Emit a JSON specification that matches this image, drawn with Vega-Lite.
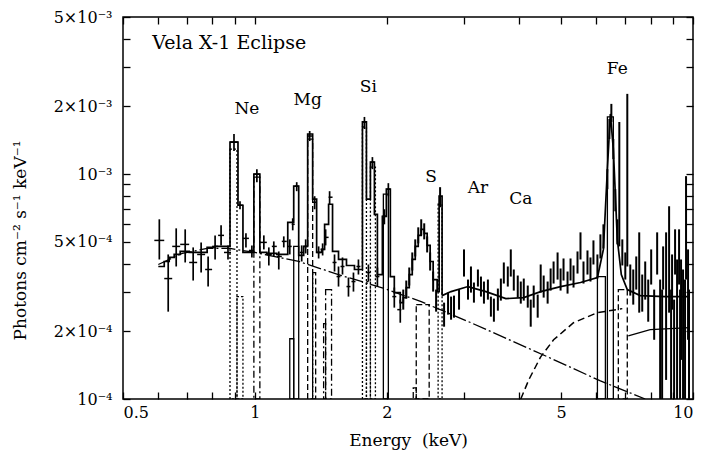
{
  "$schema": "https://vega.github.io/schema/vega-lite/v6.json",
  "width": 570,
  "height": 382,
  "autosize": {"type": "none"},
  "padding": {"left": 123, "top": 17, "right": 12, "bottom": 58},
  "background": "white",
  "config": {
    "view": {"stroke": "black", "strokeWidth": 1.5},
    "font": "DejaVu Serif",
    "axis": {"tickColor": "black", "labelColor": "black", "titleColor": "black", "grid": false, "domain": false, "labelFont": "DejaVu Serif", "titleFont": "DejaVu Serif", "labelFontSize": 16, "titleFontSize": 17, "titleFontWeight": "normal", "tickWidth": 1.3, "labelOverlap": false}
  },
  "resolve": {"axis": {"x": "independent", "y": "independent"}},
  "datasets": {
    "comp": [
      {"E1": 0.8774, "E2": 0.9102, "F": 1.2928e-3, "s": "dot"},
      {"E1": 0.9102, "E2": 0.9392, "F": 2.854e-4, "s": "dot"},
      {"E1": 0.9947, "E2": 1.0265, "F": 9.701e-4, "s": "dashdot"},
      {"E1": 1.2012, "E2": 1.2264, "F": 1.853e-4, "s": "solid"},
      {"E1": 1.2264, "E2": 1.2590, "F": 4.772e-4, "s": "solid"},
      {"E1": 1.3197, "E2": 1.3547, "F": 1.433e-3, "s": "dash"},
      {"E1": 1.3547, "E2": 1.3763, "F": 3.651e-4, "s": "dash"},
      {"E1": 1.4351, "E2": 1.4503, "F": 2.162e-4, "s": "dashdot"},
      {"E1": 1.4503, "E2": 1.4962, "F": 3.067e-4, "s": "dashdot"},
      {"E1": 1.7599, "E2": 1.7972, "F": 1.6212e-3, "s": "dot"},
      {"E1": 1.7972, "E2": 1.8352, "F": 3.330e-4, "s": "dot"},
      {"E1": 1.8352, "E2": 1.8841, "F": 1.0746e-3, "s": "dot"},
      {"E1": 1.9645, "E2": 2.0166, "F": 8.144e-4, "s": "solid"},
      {"E1": 2.2987, "E2": 2.3351, "F": 1.120e-4, "s": "dash"},
      {"E1": 2.3351, "E2": 2.4993, "F": 2.629e-4, "s": "dash"},
      {"E1": 2.6196, "E2": 2.6747, "F": 7.348e-4, "s": "dot"},
      {"E1": 6.0512, "E2": 6.3103, "F": 3.504e-4, "s": "solid"},
      {"E1": 6.3767, "E2": 6.5791, "F": 1.7967e-3, "s": "solid"},
      {"E1": 6.7540, "E2": 7.0795, "F": 3.067e-4, "s": "dash"}
    ],
    "cont": [
      {"E": 0.6020, "F": 3.965e-4}, {"E": 0.6825, "F": 4.439e-4}, {"E": 0.7780, "F": 4.674e-4},
      {"E": 0.8774, "F": 4.674e-4}, {"E": 1.0, "F": 4.485e-4}, {"E": 1.2590, "F": 4.089e-4},
      {"E": 1.5766, "F": 3.541e-4}, {"E": 1.9441, "F": 3.131e-4}, {"E": 2.3967, "F": 2.711e-4},
      {"E": 3.1131, "F": 2.184e-4}, {"E": 4.6583, "F": 1.540e-4}, {"E": 6.1474, "F": 1.203e-4},
      {"E": 7.7794, "F": 1.0e-4}
    ],
    "hard": [
      {"E": 4.0447, "F": 1.0e-4}, {"E": 4.2178, "F": 1.216e-4}, {"E": 4.4908, "F": 1.540e-4},
      {"E": 4.8063, "F": 1.834e-4}, {"E": 5.3365, "F": 2.184e-4}, {"E": 6.0512, "F": 2.421e-4},
      {"E": 6.8966, "F": 2.523e-4}
    ],
    "edge": [
      {"E": 7.1171, "F": 1.911e-4}, {"E": 7.9851, "F": 2.033e-4}, {"E": 9.8442, "F": 2.075e-4}
    ],
    "model": [
      {"E": 0.6020, "F": 3.885e-4}, {"E": 0.6210, "F": 4.089e-4}, {"E": 0.6374, "F": 4.261e-4},
      {"E": 0.6544, "F": 4.394e-4}, {"E": 0.6753, "F": 4.531e-4}, {"E": 0.7080, "F": 4.485e-4},
      {"E": 0.7383, "F": 4.485e-4}, {"E": 0.7780, "F": 4.723e-4}, {"E": 0.8113, "F": 4.772e-4},
      {"E": 0.8502, "F": 4.772e-4}, {"E": 0.8774, "F": 1.3891e-3}, {"E": 0.9150, "F": 7.273e-4},
      {"E": 0.9392, "F": 4.485e-4}, {"E": 0.9947, "F": 1.0e-3}, {"E": 1.0265, "F": 4.485e-4},
      {"E": 1.0648, "F": 4.439e-4}, {"E": 1.1220, "F": 4.394e-4}, {"E": 1.1886, "F": 6.106e-4},
      {"E": 1.2264, "F": 8.842e-4}, {"E": 1.2590, "F": 4.349e-4}, {"E": 1.2923, "F": 4.772e-4},
      {"E": 1.3197, "F": 1.5085e-3}, {"E": 1.3547, "F": 7.736e-4}, {"E": 1.3834, "F": 4.485e-4},
      {"E": 1.4202, "F": 4.627e-4}, {"E": 1.4426, "F": 5.982e-4}, {"E": 1.4732, "F": 7.348e-4},
      {"E": 1.5040, "F": 4.531e-4}, {"E": 1.5520, "F": 4.174e-4}, {"E": 1.6184, "F": 3.925e-4},
      {"E": 1.6877, "F": 3.767e-4}, {"E": 1.7599, "F": 1.7065e-3}, {"E": 1.7972, "F": 7.736e-4},
      {"E": 1.8352, "F": 1.1311e-3}, {"E": 1.8742, "F": 6.630e-4}, {"E": 1.9039, "F": 3.577e-4},
      {"E": 1.9542, "F": 6.495e-4}, {"E": 1.9956, "F": 8.574e-4}, {"E": 2.0378, "F": 3.504e-4},
      {"E": 2.0808, "F": 2.973e-4}, {"E": 2.1471, "F": 2.683e-4}, {"E": 2.1813, "F": 2.825e-4},
      {"E": 2.2158, "F": 3.131e-4}, {"E": 2.2510, "F": 3.577e-4}, {"E": 2.2866, "F": 4.174e-4},
      {"E": 2.3230, "F": 4.772e-4}, {"E": 2.3596, "F": 5.342e-4}, {"E": 2.3967, "F": 5.683e-4},
      {"E": 2.4346, "F": 5.454e-4}, {"E": 2.4732, "F": 4.821e-4}, {"E": 2.5122, "F": 4.089e-4},
      {"E": 2.5519, "F": 3.398e-4}, {"E": 2.6060, "F": 3.004e-4}, {"E": 2.6335, "F": 7.979e-4},
      {"E": 2.6747, "F": 2.883e-4}
    ],
    "tot": [
      {"E": 2.6747, "F": 2.883e-4}, {"E": 2.8038, "F": 3.004e-4}, {"E": 3.0648, "F": 3.163e-4},
      {"E": 3.3677, "F": 3.004e-4}, {"E": 3.7391, "F": 2.796e-4}, {"E": 4.1086, "F": 2.825e-4},
      {"E": 4.4908, "F": 3.004e-4}, {"E": 4.9856, "F": 3.163e-4}, {"E": 5.5361, "F": 3.296e-4},
      {"E": 6.0512, "F": 3.469e-4}, {"E": 6.2445, "F": 4.627e-4}, {"E": 6.3767, "F": 1.0527e-3},
      {"E": 6.4768, "F": 1.8529e-3}, {"E": 6.5791, "F": 1.2928e-3}, {"E": 6.7184, "F": 5.128e-4},
      {"E": 6.8604, "F": 3.577e-4}, {"E": 7.0795, "F": 3.067e-4}, {"E": 7.5786, "F": 2.883e-4},
      {"E": 8.6370, "F": 2.854e-4}, {"E": 9.8442, "F": 2.854e-4}
    ],
    "lo": [
      {"E": 0.6052, "F": 5.074e-4, "Elo": 0.5895, "Ehi": 0.6210, "Flo": 4.174e-4, "Fhi": 6.298e-4},
      {"E": 0.6341, "F": 3.433e-4, "Elo": 0.6210, "Ehi": 0.6476, "Flo": 2.446e-4, "Fhi": 4.394e-4},
      {"E": 0.6613, "F": 4.772e-4, "Elo": 0.6476, "Ehi": 0.6753, "Flo": 3.885e-4, "Fhi": 5.741e-4},
      {"E": 0.6933, "F": 4.871e-4, "Elo": 0.6753, "Ehi": 0.7080, "Flo": 4.048e-4, "Fhi": 5.683e-4},
      {"E": 0.7230, "F": 4.048e-4, "Elo": 0.7080, "Ehi": 0.7383, "Flo": 3.364e-4, "Fhi": 4.723e-4},
      {"E": 0.7539, "F": 4.394e-4, "Elo": 0.7383, "Ehi": 0.7699, "Flo": 3.651e-4, "Fhi": 4.972e-4},
      {"E": 0.7821, "F": 3.767e-4, "Elo": 0.7699, "Ehi": 0.7987, "Flo": 3.163e-4, "Fhi": 4.305e-4},
      {"E": 0.8113, "F": 4.772e-4, "Elo": 0.7987, "Ehi": 0.8242, "Flo": 4.174e-4, "Fhi": 5.342e-4},
      {"E": 0.8372, "F": 5.342e-4, "Elo": 0.8242, "Ehi": 0.8502, "Flo": 4.821e-4, "Fhi": 5.921e-4},
      {"E": 0.8682, "F": 4.485e-4, "Elo": 0.8502, "Ehi": 0.8820, "Flo": 4.174e-4, "Fhi": 4.821e-4},
      {"E": 0.8960, "F": 1.389e-3, "Elo": 0.8774, "Ehi": 0.9150, "Flo": 1.2665e-3, "Fhi": 1.5085e-3},
      {"E": 0.9247, "F": 7.273e-4, "Elo": 0.9150, "Ehi": 0.9392, "Flo": 6.980e-4, "Fhi": 7.578e-4},
      {"E": 0.9541, "F": 5.181e-4, "Elo": 0.9392, "Ehi": 0.9691, "Flo": 4.723e-4, "Fhi": 5.454e-4},
      {"E": 0.9844, "F": 4.578e-4, "Elo": 0.9691, "Ehi": 0.9947, "Flo": 4.261e-4, "Fhi": 4.821e-4},
      {"E": 1.0105, "F": 1.0e-3, "Elo": 0.9947, "Ehi": 1.0265, "Flo": 9.212e-4, "Fhi": 1.0527e-3},
      {"E": 1.0482, "F": 4.972e-4, "Elo": 1.0265, "Ehi": 1.0648, "Flo": 4.627e-4, "Fhi": 5.342e-4},
      {"E": 1.0760, "F": 4.394e-4, "Elo": 1.0648, "Ehi": 1.0930, "Flo": 3.925e-4, "Fhi": 4.723e-4},
      {"E": 1.1045, "F": 4.772e-4, "Elo": 1.0930, "Ehi": 1.1220, "Flo": 4.305e-4, "Fhi": 5.023e-4},
      {"E": 1.1338, "F": 4.305e-4, "Elo": 1.1220, "Ehi": 1.1519, "Flo": 3.767e-4, "Fhi": 4.531e-4},
      {"E": 1.1640, "F": 5.023e-4, "Elo": 1.1519, "Ehi": 1.1824, "Flo": 4.723e-4, "Fhi": 5.288e-4},
      {"E": 1.2012, "F": 4.772e-4, "Elo": 1.1886, "Ehi": 1.2137, "Flo": 4.394e-4, "Fhi": 5.128e-4},
      {"E": 1.2200, "F": 5.982e-4, "Elo": 1.2137, "Ehi": 1.2329, "Flo": 5.624e-4, "Fhi": 6.363e-4},
      {"E": 1.2459, "F": 8.842e-4, "Elo": 1.2329, "Ehi": 1.2590, "Flo": 8.399e-4, "Fhi": 9.212e-4},
      {"E": 1.2789, "F": 4.485e-4, "Elo": 1.2657, "Ehi": 1.2923, "Flo": 4.089e-4, "Fhi": 4.821e-4},
      {"E": 1.3060, "F": 4.772e-4, "Elo": 1.2923, "Ehi": 1.3197, "Flo": 4.439e-4, "Fhi": 5.128e-4},
      {"E": 1.3337, "F": 1.4779e-3, "Elo": 1.3197, "Ehi": 1.3547, "Flo": 1.4035e-3, "Fhi": 1.5557e-3},
      {"E": 1.3690, "F": 7.500e-4, "Elo": 1.3547, "Ehi": 1.3834, "Flo": 6.980e-4, "Fhi": 7.979e-4},
      {"E": 1.3980, "F": 4.485e-4, "Elo": 1.3834, "Ehi": 1.4127, "Flo": 4.217e-4, "Fhi": 4.772e-4},
      {"E": 1.4276, "F": 4.627e-4, "Elo": 1.4127, "Ehi": 1.4426, "Flo": 4.349e-4, "Fhi": 4.921e-4},
      {"E": 1.4503, "F": 5.234e-4, "Elo": 1.4426, "Ehi": 1.4732, "Flo": 4.821e-4, "Fhi": 5.683e-4},
      {"E": 1.4810, "F": 7.897e-4, "Elo": 1.4732, "Ehi": 1.5040, "Flo": 7.348e-4, "Fhi": 8.399e-4},
      {"E": 1.5198, "F": 4.048e-4, "Elo": 1.5040, "Ehi": 1.5359, "Flo": 3.689e-4, "Fhi": 4.394e-4},
      {"E": 1.5520, "F": 3.504e-4, "Elo": 1.5359, "Ehi": 1.5683, "Flo": 3.163e-4, "Fhi": 3.885e-4},
      {"E": 1.5848, "F": 3.885e-4, "Elo": 1.5683, "Ehi": 1.6015, "Flo": 3.577e-4, "Fhi": 4.261e-4},
      {"E": 1.6354, "F": 3.163e-4, "Elo": 1.6184, "Ehi": 1.6526, "Flo": 2.854e-4, "Fhi": 3.469e-4},
      {"E": 1.6788, "F": 3.330e-4, "Elo": 1.6614, "Ehi": 1.6966, "Flo": 3.004e-4, "Fhi": 3.651e-4},
      {"E": 1.7234, "F": 3.885e-4, "Elo": 1.7054, "Ehi": 1.7415, "Flo": 3.577e-4, "Fhi": 4.174e-4},
      {"E": 1.7785, "F": 1.7065e-3, "Elo": 1.7599, "Ehi": 1.7972, "Flo": 1.5882e-3, "Fhi": 1.7967e-3},
      {"E": 1.8161, "F": 3.651e-4, "Elo": 1.7972, "Ehi": 1.8352, "Flo": 3.330e-4, "Fhi": 3.965e-4},
      {"E": 1.8546, "F": 1.1311e-3, "Elo": 1.8352, "Ehi": 1.8742, "Flo": 1.0527e-3, "Fhi": 1.1909e-3},
      {"E": 1.9039, "F": 3.504e-4, "Elo": 1.8841, "Ehi": 1.9240, "Flo": 3.163e-4, "Fhi": 3.845e-4},
      {"E": 1.9748, "F": 6.495e-4, "Elo": 1.9542, "Ehi": 1.9956, "Flo": 5.982e-4, "Fhi": 6.980e-4},
      {"E": 2.0166, "F": 8.574e-4, "Elo": 1.9956, "Ehi": 2.0378, "Flo": 7.979e-4, "Fhi": 9.119e-4},
      {"E": 2.0808, "F": 2.854e-4, "Elo": 2.0590, "Ehi": 2.1027, "Flo": 2.549e-4, "Fhi": 3.131e-4},
      {"E": 2.1471, "F": 2.497e-4, "Elo": 2.1137, "Ehi": 2.1586, "Flo": 2.184e-4, "Fhi": 2.767e-4}
    ],
    "hi": [
      {"E": 2.181, "F": 2.767e-4, "Flo": 2.497e-4, "Fhi": 3.067e-4},
      {"E": 2.216, "F": 3.067e-4, "Flo": 2.796e-4, "Fhi": 3.364e-4},
      {"E": 2.251, "F": 3.504e-4, "Flo": 3.196e-4, "Fhi": 3.845e-4},
      {"E": 2.287, "F": 4.089e-4, "Flo": 3.727e-4, "Fhi": 4.485e-4},
      {"E": 2.323, "F": 4.723e-4, "Flo": 4.305e-4, "Fhi": 5.128e-4},
      {"E": 2.360, "F": 5.342e-4, "Flo": 4.921e-4, "Fhi": 5.801e-4},
      {"E": 2.397, "F": 5.801e-4, "Flo": 5.342e-4, "Fhi": 6.298e-4},
      {"E": 2.435, "F": 5.567e-4, "Flo": 5.128e-4, "Fhi": 6.044e-4},
      {"E": 2.473, "F": 4.871e-4, "Flo": 4.485e-4, "Fhi": 5.288e-4},
      {"E": 2.512, "F": 4.089e-4, "Flo": 3.727e-4, "Fhi": 4.485e-4},
      {"E": 2.552, "F": 3.330e-4, "Flo": 3.004e-4, "Fhi": 3.689e-4},
      {"E": 2.592, "F": 2.767e-4, "Flo": 2.446e-4, "Fhi": 3.067e-4},
      {"E": 2.647, "F": 7.979e-4, "Flo": 7.125e-4, "Fhi": 8.752e-4},
      {"E": 2.703, "F": 2.421e-4, "Flo": 2.097e-4, "Fhi": 2.683e-4},
      {"E": 2.760, "F": 2.683e-4, "Flo": 2.372e-4, "Fhi": 2.973e-4},
      {"E": 2.804, "F": 2.497e-4, "Flo": 2.253e-4, "Fhi": 2.854e-4},
      {"E": 2.848, "F": 2.575e-4, "Flo": 2.300e-4, "Fhi": 2.883e-4},
      {"E": 2.924, "F": 2.767e-4, "Flo": 2.497e-4, "Fhi": 3.067e-4},
      {"E": 3.001, "F": 4.089e-4, "Flo": 3.504e-4, "Fhi": 4.627e-4},
      {"E": 3.065, "F": 3.067e-4, "Flo": 2.767e-4, "Fhi": 3.398e-4},
      {"E": 3.113, "F": 3.398e-4, "Flo": 2.973e-4, "Fhi": 3.885e-4},
      {"E": 3.162, "F": 2.973e-4, "Flo": 2.683e-4, "Fhi": 3.296e-4},
      {"E": 3.229, "F": 3.504e-4, "Flo": 3.163e-4, "Fhi": 3.767e-4},
      {"E": 3.281, "F": 3.163e-4, "Flo": 2.854e-4, "Fhi": 3.504e-4},
      {"E": 3.333, "F": 2.973e-4, "Flo": 2.656e-4, "Fhi": 3.330e-4},
      {"E": 3.403, "F": 3.067e-4, "Flo": 2.767e-4, "Fhi": 3.398e-4},
      {"E": 3.457, "F": 2.575e-4, "Flo": 2.324e-4, "Fhi": 2.854e-4},
      {"E": 3.512, "F": 2.497e-4, "Flo": 2.207e-4, "Fhi": 2.796e-4},
      {"E": 3.586, "F": 2.767e-4, "Flo": 2.471e-4, "Fhi": 3.099e-4},
      {"E": 3.643, "F": 3.067e-4, "Flo": 2.739e-4, "Fhi": 3.433e-4},
      {"E": 3.700, "F": 3.651e-4, "Flo": 3.262e-4, "Fhi": 4.048e-4},
      {"E": 3.778, "F": 3.577e-4, "Flo": 3.163e-4, "Fhi": 3.885e-4},
      {"E": 3.838, "F": 4.048e-4, "Flo": 3.504e-4, "Fhi": 4.627e-4},
      {"E": 3.899, "F": 3.398e-4, "Flo": 3.035e-4, "Fhi": 3.767e-4},
      {"E": 3.981, "F": 3.163e-4, "Flo": 2.825e-4, "Fhi": 3.541e-4},
      {"E": 4.045, "F": 2.973e-4, "Flo": 2.656e-4, "Fhi": 3.330e-4},
      {"E": 4.109, "F": 3.067e-4, "Flo": 2.739e-4, "Fhi": 3.433e-4},
      {"E": 4.196, "F": 2.854e-4, "Flo": 2.549e-4, "Fhi": 3.196e-4},
      {"E": 4.262, "F": 2.497e-4, "Flo": 2.097e-4, "Fhi": 2.767e-4},
      {"E": 4.329, "F": 2.854e-4, "Flo": 2.549e-4, "Fhi": 3.196e-4},
      {"E": 4.421, "F": 2.575e-4, "Flo": 2.300e-4, "Fhi": 2.913e-4},
      {"E": 4.491, "F": 3.398e-4, "Flo": 2.973e-4, "Fhi": 3.965e-4},
      {"E": 4.562, "F": 3.163e-4, "Flo": 2.825e-4, "Fhi": 3.541e-4},
      {"E": 4.658, "F": 2.973e-4, "Flo": 2.656e-4, "Fhi": 3.330e-4},
      {"E": 4.732, "F": 3.398e-4, "Flo": 3.035e-4, "Fhi": 3.806e-4},
      {"E": 4.806, "F": 3.651e-4, "Flo": 3.262e-4, "Fhi": 4.089e-4},
      {"E": 4.908, "F": 3.885e-4, "Flo": 3.398e-4, "Fhi": 4.485e-4},
      {"E": 4.986, "F": 3.398e-4, "Flo": 3.035e-4, "Fhi": 3.806e-4},
      {"E": 5.064, "F": 3.767e-4, "Flo": 3.364e-4, "Fhi": 4.217e-4},
      {"E": 5.172, "F": 3.296e-4, "Flo": 2.943e-4, "Fhi": 3.689e-4},
      {"E": 5.254, "F": 3.767e-4, "Flo": 3.364e-4, "Fhi": 4.217e-4},
      {"E": 5.337, "F": 3.504e-4, "Flo": 3.131e-4, "Fhi": 3.925e-4},
      {"E": 5.450, "F": 4.048e-4, "Flo": 3.614e-4, "Fhi": 4.531e-4},
      {"E": 5.536, "F": 4.772e-4, "Flo": 4.174e-4, "Fhi": 5.510e-4},
      {"E": 5.624, "F": 3.651e-4, "Flo": 3.262e-4, "Fhi": 4.089e-4},
      {"E": 5.743, "F": 4.048e-4, "Flo": 3.577e-4, "Fhi": 4.578e-4},
      {"E": 5.834, "F": 3.767e-4, "Flo": 3.330e-4, "Fhi": 4.261e-4},
      {"E": 5.926, "F": 4.485e-4, "Flo": 3.965e-4, "Fhi": 5.075e-4},
      {"E": 6.051, "F": 3.885e-4, "Flo": 3.433e-4, "Fhi": 4.394e-4},
      {"E": 6.147, "F": 4.772e-4, "Flo": 4.217e-4, "Fhi": 5.398e-4},
      {"E": 6.245, "F": 5.288e-4, "Flo": 4.674e-4, "Fhi": 5.982e-4},
      {"E": 6.377, "F": 9.503e-4, "Flo": 8.574e-4, "Fhi": 1.0527e-3},
      {"E": 6.444, "F": 1.5882e-3, "Flo": 1.4330e-3, "Fhi": 1.7601e-3},
      {"E": 6.511, "F": 1.8912e-3, "Flo": 1.7065e-3, "Fhi": 2.0537e-3},
      {"E": 6.579, "F": 1.2928e-3, "Flo": 1.1666e-3, "Fhi": 1.4330e-3},
      {"E": 6.648, "F": 7.736e-4, "Flo": 6.837e-4, "Fhi": 8.574e-4},
      {"E": 6.718, "F": 5.567e-4, "Flo": 4.871e-4, "Fhi": 6.298e-4},
      {"E": 6.789, "F": 9.026e-4, "Flo": 4.772e-4, "Fhi": 1.7065e-3},
      {"E": 6.897, "F": 4.485e-4, "Flo": 3.925e-4, "Fhi": 5.128e-4},
      {"E": 7.006, "F": 3.885e-4, "Flo": 3.398e-4, "Fhi": 4.485e-4},
      {"E": 7.080, "F": 9.503e-4, "Flo": 3.885e-4, "Fhi": 2.2757e-3},
      {"E": 7.192, "F": 3.398e-4, "Flo": 2.883e-4, "Fhi": 3.965e-4},
      {"E": 7.305, "F": 3.163e-4, "Flo": 2.629e-4, "Fhi": 3.767e-4},
      {"E": 7.421, "F": 3.651e-4, "Flo": 3.067e-4, "Fhi": 4.305e-4},
      {"E": 7.538, "F": 3.767e-4, "Flo": 2.421e-4, "Fhi": 5.510e-4},
      {"E": 7.658, "F": 2.973e-4, "Flo": 2.446e-4, "Fhi": 3.577e-4},
      {"E": 7.779, "F": 3.398e-4, "Flo": 2.767e-4, "Fhi": 4.089e-4},
      {"E": 7.903, "F": 2.767e-4, "Flo": 2.207e-4, "Fhi": 3.398e-4},
      {"E": 8.027, "F": 3.885e-4, "Flo": 3.229e-4, "Fhi": 4.627e-4},
      {"E": 8.154, "F": 2.421e-4, "Flo": 1.834e-4, "Fhi": 3.067e-4},
      {"E": 8.283, "F": 4.485e-4, "Flo": 3.577e-4, "Fhi": 5.510e-4},
      {"E": 8.414, "F": 2.033e-4, "Flo": 1.0e-4, "Fhi": 3.398e-4},
      {"E": 8.502, "F": 2.253e-4, "Flo": 1.0e-4, "Fhi": 3.067e-4},
      {"E": 8.547, "F": 3.885e-4, "Flo": 3.067e-4, "Fhi": 4.772e-4},
      {"E": 8.682, "F": 2.767e-4, "Flo": 1.216e-4, "Fhi": 5.510e-4},
      {"E": 8.820, "F": 5.128e-4, "Flo": 2.421e-4, "Fhi": 7.199e-4},
      {"E": 8.912, "F": 2.033e-4, "Flo": 1.0e-4, "Fhi": 3.067e-4},
      {"E": 8.959, "F": 3.398e-4, "Flo": 2.497e-4, "Fhi": 4.394e-4},
      {"E": 9.054, "F": 1.834e-4, "Flo": 1.0e-4, "Fhi": 2.767e-4},
      {"E": 9.101, "F": 4.627e-4, "Flo": 3.577e-4, "Fhi": 5.683e-4},
      {"E": 9.197, "F": 2.253e-4, "Flo": 1.0e-4, "Fhi": 4.174e-4},
      {"E": 9.294, "F": 4.394e-4, "Flo": 3.229e-4, "Fhi": 5.683e-4},
      {"E": 9.343, "F": 2.033e-4, "Flo": 1.0e-4, "Fhi": 3.067e-4},
      {"E": 9.391, "F": 2.767e-4, "Flo": 1.493e-4, "Fhi": 4.174e-4},
      {"E": 9.490, "F": 2.497e-4, "Flo": 1.0e-4, "Fhi": 3.767e-4},
      {"E": 9.590, "F": 2.253e-4, "Flo": 1.0e-4, "Fhi": 3.398e-4},
      {"E": 9.641, "F": 5.683e-4, "Flo": 3.398e-4, "Fhi": 9.800e-4},
      {"E": 9.743, "F": 3.067e-4, "Flo": 1.834e-4, "Fhi": 4.627e-4},
      {"E": 9.793, "F": 2.253e-4, "Flo": 1.0e-4, "Fhi": 3.067e-4}
    ],
    "labels": [
      {"E": 0.9590, "F": 1.9509e-3, "t": "Ne"},
      {"E": 1.3197, "F": 2.1397e-3, "t": "Mg"},
      {"E": 1.8161, "F": 2.446e-3, "t": "Si"},
      {"E": 2.5254, "F": 9.701e-4, "t": "S"},
      {"E": 3.2292, "F": 8.662e-4, "t": "Ar"},
      {"E": 4.0447, "F": 7.736e-4, "t": "Ca"},
      {"E": 6.7184, "F": 2.943e-3, "t": "Fe"}
    ],
    "title": [{"E": 0.5834, "F": 3.844e-3, "t": "Vela X-1 Eclipse"}]
  },
  "layer": [
    {
      "data": {"name": "comp"},
      "transform": [{"filter": "datum.s == 'solid'"}],
      "mark": {"type": "rect", "fillOpacity": 0, "stroke": "black", "strokeWidth": 1.3, "clip": true},
      "encoding": {
        "x": {"field": "E1", "type": "quantitative", "scale": {"type": "log", "domain": [0.5, 10], "nice": false},
          "axis": {"orient": "bottom", "values": [0.5, 0.6, 0.7, 0.8, 0.9, 1, 2, 3, 4, 5, 6, 7, 8, 9, 10],
            "labelExpr": "datum.value==0.5?'0.5':datum.value==1?'1':datum.value==2?'2':datum.value==5?'5':datum.value==10?'10':''",
            "title": "Energy\u00a0\u00a0(keV)", "tickSize": -7, "labelPadding": 12, "labelFlush": true,
            "titleX": 285, "titleY": 41, "titleBaseline": "middle", "titleAnchor": "middle"}},
        "x2": {"field": "E2"},
        "y": {"field": "F", "type": "quantitative", "scale": {"type": "log", "domain": [0.0001, 0.005], "nice": false},
          "axis": {"orient": "left", "values": [0.0001, 0.0002, 0.0003, 0.0004, 0.0005, 0.0006, 0.0007, 0.0008, 0.0009, 0.001, 0.002, 0.003, 0.004, 0.005],
            "labelExpr": "datum.value==0.0001?'10⁻⁴':datum.value==0.0002?'2×10⁻⁴':datum.value==0.0005?'5×10⁻⁴':datum.value==0.001?'10⁻³':datum.value==0.002?'2×10⁻³':datum.value==0.005?'5×10⁻³':''",
            "title": "Photons cm⁻² s⁻¹ keV⁻¹", "tickSize": -7, "labelPadding": 18,
            "titleX": -103, "titleY": 223, "titleBaseline": "middle", "titleAnchor": "middle"}},
        "y2": {"datum": 0.0001}
      }
    },
    {
      "data": {"name": "cont"},
      "mark": {"type": "line", "stroke": "black", "strokeWidth": 1.3, "strokeDash": [14, 3, 2, 3], "clip": true},
      "encoding": {
        "x": {"field": "E", "type": "quantitative", "scale": {"type": "log", "domain": [0.5, 10], "nice": false},
          "axis": {"orient": "top", "values": [0.5, 0.6, 0.7, 0.8, 0.9, 1, 2, 3, 4, 5, 6, 7, 8, 9, 10], "labels": false, "title": null, "tickSize": -7}},
        "y": {"field": "F", "type": "quantitative", "scale": {"type": "log", "domain": [0.0001, 0.005], "nice": false},
          "axis": {"orient": "right", "values": [0.0001, 0.0002, 0.0003, 0.0004, 0.0005, 0.0006, 0.0007, 0.0008, 0.0009, 0.001, 0.002, 0.003, 0.004, 0.005], "labels": false, "title": null, "tickSize": -7}}
      }
    },
    {
      "data": {"name": "comp"},
      "transform": [{"filter": "datum.s == 'dash'"}],
      "mark": {"type": "rect", "fillOpacity": 0, "stroke": "black", "strokeWidth": 1.3, "strokeDash": [6, 3], "clip": true},
      "encoding": {
        "x": {"field": "E1", "type": "quantitative", "scale": {"type": "log", "domain": [0.5, 10], "nice": false}, "axis": null},
        "x2": {"field": "E2"},
        "y": {"field": "F", "type": "quantitative", "scale": {"type": "log", "domain": [0.0001, 0.005], "nice": false}, "axis": null},
        "y2": {"datum": 0.0001}
      }
    },
    {
      "data": {"name": "comp"},
      "transform": [{"filter": "datum.s == 'dot'"}],
      "mark": {"type": "rect", "fillOpacity": 0, "stroke": "black", "strokeWidth": 1.3, "strokeDash": [2, 2], "clip": true},
      "encoding": {
        "x": {"field": "E1", "type": "quantitative", "scale": {"type": "log", "domain": [0.5, 10], "nice": false}, "axis": null},
        "x2": {"field": "E2"},
        "y": {"field": "F", "type": "quantitative", "scale": {"type": "log", "domain": [0.0001, 0.005], "nice": false}, "axis": null},
        "y2": {"datum": 0.0001}
      }
    },
    {
      "data": {"name": "comp"},
      "transform": [{"filter": "datum.s == 'dashdot'"}],
      "mark": {"type": "rect", "fillOpacity": 0, "stroke": "black", "strokeWidth": 1.3, "strokeDash": [7, 3, 2, 3], "clip": true},
      "encoding": {
        "x": {"field": "E1", "type": "quantitative", "scale": {"type": "log", "domain": [0.5, 10], "nice": false}, "axis": null},
        "x2": {"field": "E2"},
        "y": {"field": "F", "type": "quantitative", "scale": {"type": "log", "domain": [0.0001, 0.005], "nice": false}, "axis": null},
        "y2": {"datum": 0.0001}
      }
    },
    {
      "data": {"name": "hard"},
      "mark": {"type": "line", "stroke": "black", "strokeWidth": 1.5, "strokeDash": [7, 4], "clip": true},
      "encoding": {
        "x": {"field": "E", "type": "quantitative", "scale": {"type": "log", "domain": [0.5, 10], "nice": false}, "axis": null},
        "y": {"field": "F", "type": "quantitative", "scale": {"type": "log", "domain": [0.0001, 0.005], "nice": false}, "axis": null}
      }
    },
    {
      "data": {"name": "edge"},
      "mark": {"type": "line", "stroke": "black", "strokeWidth": 1.3, "clip": true},
      "encoding": {
        "x": {"field": "E", "type": "quantitative", "scale": {"type": "log", "domain": [0.5, 10], "nice": false}, "axis": null},
        "y": {"field": "F", "type": "quantitative", "scale": {"type": "log", "domain": [0.0001, 0.005], "nice": false}, "axis": null}
      }
    },
    {
      "data": {"name": "model"},
      "mark": {"type": "line", "interpolate": "step-after", "stroke": "black", "strokeWidth": 1.7, "clip": true},
      "encoding": {
        "x": {"field": "E", "type": "quantitative", "scale": {"type": "log", "domain": [0.5, 10], "nice": false}, "axis": null},
        "y": {"field": "F", "type": "quantitative", "scale": {"type": "log", "domain": [0.0001, 0.005], "nice": false}, "axis": null}
      }
    },
    {
      "data": {"name": "tot"},
      "mark": {"type": "line", "stroke": "black", "strokeWidth": 1.7, "clip": true},
      "encoding": {
        "x": {"field": "E", "type": "quantitative", "scale": {"type": "log", "domain": [0.5, 10], "nice": false}, "axis": null},
        "y": {"field": "F", "type": "quantitative", "scale": {"type": "log", "domain": [0.0001, 0.005], "nice": false}, "axis": null}
      }
    },
    {
      "data": {"name": "lo"},
      "mark": {"type": "rule", "stroke": "black", "strokeWidth": 1.7, "clip": true},
      "encoding": {
        "x": {"field": "E", "type": "quantitative", "scale": {"type": "log", "domain": [0.5, 10], "nice": false}, "axis": null},
        "y": {"field": "Flo", "type": "quantitative", "scale": {"type": "log", "domain": [0.0001, 0.005], "nice": false}, "axis": null},
        "y2": {"field": "Fhi"}
      }
    },
    {
      "data": {"name": "lo"},
      "mark": {"type": "rule", "stroke": "black", "strokeWidth": 1.5, "clip": true},
      "encoding": {
        "x": {"field": "Elo", "type": "quantitative", "scale": {"type": "log", "domain": [0.5, 10], "nice": false}, "axis": null},
        "x2": {"field": "Ehi"},
        "y": {"field": "F", "type": "quantitative", "scale": {"type": "log", "domain": [0.0001, 0.005], "nice": false}, "axis": null}
      }
    },
    {
      "data": {"name": "hi"},
      "mark": {"type": "rule", "stroke": "black", "strokeWidth": 2, "clip": true},
      "encoding": {
        "x": {"field": "E", "type": "quantitative", "scale": {"type": "log", "domain": [0.5, 10], "nice": false}, "axis": null},
        "y": {"field": "Flo", "type": "quantitative", "scale": {"type": "log", "domain": [0.0001, 0.005], "nice": false}, "axis": null},
        "y2": {"field": "Fhi"}
      }
    },
    {
      "data": {"name": "labels"},
      "mark": {"type": "text", "font": "DejaVu Serif", "fontSize": 17, "align": "center", "baseline": "middle", "color": "black"},
      "encoding": {
        "x": {"field": "E", "type": "quantitative", "scale": {"type": "log", "domain": [0.5, 10], "nice": false}, "axis": null},
        "y": {"field": "F", "type": "quantitative", "scale": {"type": "log", "domain": [0.0001, 0.005], "nice": false}, "axis": null},
        "text": {"field": "t"}
      }
    },
    {
      "data": {"name": "title"},
      "mark": {"type": "text", "font": "DejaVu Serif", "fontSize": 19, "align": "left", "baseline": "middle", "color": "black"},
      "encoding": {
        "x": {"field": "E", "type": "quantitative", "scale": {"type": "log", "domain": [0.5, 10], "nice": false}, "axis": null},
        "y": {"field": "F", "type": "quantitative", "scale": {"type": "log", "domain": [0.0001, 0.005], "nice": false}, "axis": null},
        "text": {"field": "t"}
      }
    }
  ]
}
